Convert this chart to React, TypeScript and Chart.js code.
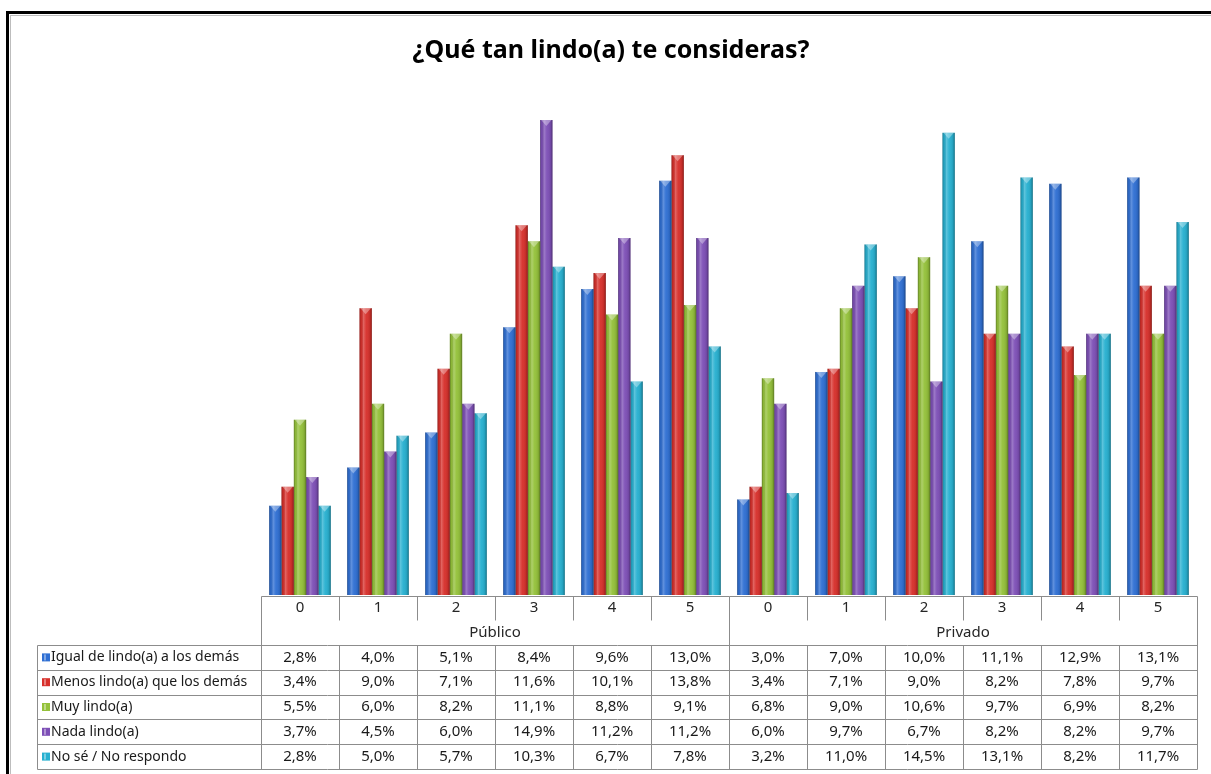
import React, { useEffect, useRef } from "react";
import { Chart, registerables } from "chart.js";

Chart.register(...registerables);

const TITLE = "¿Qué tan lindo(a) te consideras?";
const GROUPS = ["Público", "Privado"];
const RATINGS = ["0", "1", "2", "3", "4", "5"];

const SERIES_NAMES = [
  "Igual de lindo(a) a los demás",
  "Menos lindo(a) que los demás",
  "Muy lindo(a)",
  "Nada lindo(a)",
  "No sé / No respondo",
];

const IGUAL = [2.8, 4.0, 5.1, 8.4, 9.6, 13.0, 3.0, 7.0, 10.0, 11.1, 12.9, 13.1];
const MENOS = [3.4, 9.0, 7.1, 11.6, 10.1, 13.8, 3.4, 7.1, 9.0, 8.2, 7.8, 9.7];
const MUY = [5.5, 6.0, 8.2, 11.1, 8.8, 9.1, 6.8, 9.0, 10.6, 9.7, 6.9, 8.2];
const NADA = [3.7, 4.5, 6.0, 14.9, 11.2, 11.2, 6.0, 9.7, 6.7, 8.2, 8.2, 9.7];
const NOSE = [2.8, 5.0, 5.7, 10.3, 6.7, 7.8, 3.2, 11.0, 14.5, 13.1, 8.2, 11.7];

const SERIES_VALUES = [IGUAL, MENOS, MUY, NADA, NOSE];
const COLORS = ["#2F6FD3", "#D7302B", "#94C13A", "#7D4FB6", "#27B0D0"];
const Y_MAX = 16;

const LABELS = GROUPS.flatMap(() => RATINGS);

const fmt = (v: number) => v.toFixed(1).replace(".", ",") + "%";

const FONT = '"Noto Sans", "Open Sans", sans-serif';

const tablePlugin = {
  id: "tablePlugin",
  afterDatasetsDraw(chart: any) {
    const ctx: CanvasRenderingContext2D = chart.ctx;
    chart.data.datasets.forEach((_ds: any, di: number) => {
      const meta = chart.getDatasetMeta(di);
      meta.data.forEach((el: any) => {
        const w = el.width;
        const left = el.x - w / 2;
        const top = el.y;
        const h = el.base - el.y;
        const g = ctx.createLinearGradient(left, 0, left + w, 0);
        g.addColorStop(0, "rgba(0,0,0,0.35)");
        g.addColorStop(0.12, "rgba(0,0,0,0.05)");
        g.addColorStop(0.32, "rgba(255,255,255,0.25)");
        g.addColorStop(0.55, "rgba(255,255,255,0.04)");
        g.addColorStop(0.85, "rgba(0,0,0,0.1)");
        g.addColorStop(1, "rgba(0,0,0,0.38)");
        ctx.save();
        ctx.fillStyle = g;
        ctx.fillRect(left, top, w, h);
        ctx.beginPath();
        ctx.moveTo(left + 1, top);
        ctx.lineTo(left + w - 1, top);
        ctx.lineTo(el.x, top + 6);
        ctx.closePath();
        ctx.fillStyle = "rgba(255,255,255,0.35)";
        ctx.fill();
        ctx.restore();
      });
    });
  },
  afterDraw(chart: any) {
    const ctx: CanvasRenderingContext2D = chart.ctx;
    const area = chart.chartArea;
    const n = LABELS.length;
    const colW = (area.right - area.left) / n;
    const colX = (i: number) => area.left + i * colW;

    ctx.save();
    ctx.strokeStyle = "#000";
    ctx.lineWidth = 3;
    ctx.strokeRect(7.5, 12.5, 1220, 780);
    ctx.strokeStyle = "#bdbdbd";
    ctx.lineWidth = 1;
    ctx.strokeRect(10.5, 15.5, 1220, 780);

    ctx.fillStyle = "#000";
    ctx.font = `bold 25px ${FONT}`;
    ctx.textAlign = "center";
    ctx.textBaseline = "alphabetic";
    ctx.fillText(TITLE, 611, 58);

    const headTop = 596;
    const headShort = 620;
    const bodyTop = 645;
    const rowH = 24.8;
    const tableLeft = 37;
    const bottom = bodyTop + rowH * SERIES_NAMES.length;

    ctx.strokeStyle = "#8c8c8c";
    ctx.lineWidth = 1;
    const line = (x1: number, y1: number, x2: number, y2: number) => {
      ctx.beginPath();
      ctx.moveTo(Math.round(x1) + 0.5, Math.round(y1) + 0.5);
      ctx.lineTo(Math.round(x2) + 0.5, Math.round(y2) + 0.5);
      ctx.stroke();
    };
    line(area.left, headTop, area.right, headTop);
    for (let i = 0; i <= n; i++) {
      const x = colX(i);
      const full = i === 0 || i === n || i === RATINGS.length;
      if (full) line(x, headTop, x, bottom);
      else {
        line(x, headTop, x, headShort);
        line(x, bodyTop, x, bottom);
      }
    }
    for (let r = 0; r <= SERIES_NAMES.length; r++) {
      const y = bodyTop + r * rowH;
      line(tableLeft, y, area.right, y);
    }
    line(tableLeft, bodyTop, tableLeft, bottom);

    ctx.fillStyle = "#262626";
    ctx.font = `15px ${FONT}`;
    ctx.textAlign = "center";
    ctx.textBaseline = "middle";
    LABELS.forEach((lab, i) => {
      ctx.fillText(lab, colX(i) + colW / 2, 608);
    });
    GROUPS.forEach((g, gi) => {
      const x0 = colX(gi * RATINGS.length);
      const x1 = colX((gi + 1) * RATINGS.length);
      ctx.fillText(g, (x0 + x1) / 2, 633);
    });

    SERIES_NAMES.forEach((name, si) => {
      const yc = bodyTop + si * rowH + rowH / 2;
      const mx = 42;
      const ms = 8;
      ctx.fillStyle = COLORS[si];
      ctx.fillRect(mx, yc - ms / 2, ms, ms);
      ctx.fillStyle = "rgba(255,255,255,0.4)";
      ctx.fillRect(mx + 2, yc - ms / 2 + 1, 2, ms - 2);
      ctx.fillStyle = "#1a1a1a";
      ctx.textAlign = "left";
      ctx.font = `14px ${FONT}`;
      ctx.fillText(name, 51, yc);
      ctx.textAlign = "center";
      ctx.font = `15px ${FONT}`;
      SERIES_VALUES[si].forEach((v, i) => {
        ctx.fillText(fmt(v), colX(i) + colW / 2, yc);
      });
    });
    ctx.restore();
  },
};

export default function App() {
  const ref = useRef<HTMLCanvasElement | null>(null);
  useEffect(() => {
    if (!ref.current) return;
    const chart = new Chart(ref.current, {
      type: "bar",
      data: {
        labels: LABELS,
        datasets: SERIES_NAMES.map((name, i) => ({
          label: name,
          data: SERIES_VALUES[i],
          backgroundColor: COLORS[i],
          borderWidth: 0,
          categoryPercentage: 0.79,
          barPercentage: 1.0,
        })),
      },
      options: {
        responsive: false,
        animation: false,
        layout: { padding: { left: 261, right: 14, top: 85, bottom: 179 } },
        plugins: {
          legend: { display: false },
          tooltip: { enabled: false },
          title: { display: false },
        },
        scales: {
          x: { display: false, offset: true, grid: { display: false } },
          y: { display: false, min: 0, max: Y_MAX },
        },
      },
      plugins: [tablePlugin],
    });
    return () => chart.destroy();
  }, []);
  return (
    <div style={{ position: "fixed", left: 0, top: 0, width: 1211, height: 774, background: "#fff" }}>
      <canvas ref={ref} width={1211} height={774} style={{ display: "block" }} />
    </div>
  );
}
